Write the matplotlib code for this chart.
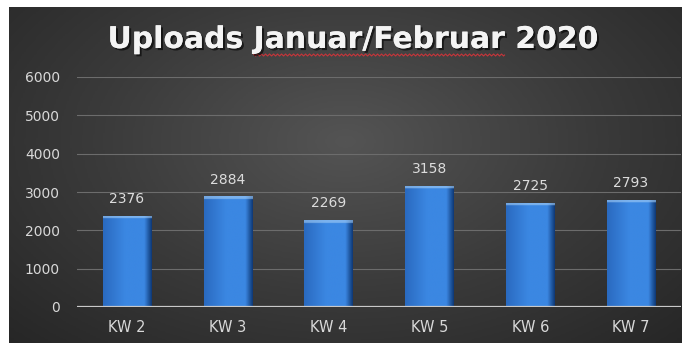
import numpy as np
import matplotlib
matplotlib.use("Agg")
import matplotlib.pyplot as plt
import matplotlib.patheffects as pe
from matplotlib.colors import LinearSegmentedColormap, to_rgb

# weekly upload counts
weeks = ["KW 2", "KW 3", "KW 4", "KW 5", "KW 6", "KW 7"]
uploads = [2376, 2884, 2269, 3158, 2725, 2793]
y_ticks = [0, 1000, 2000, 3000, 4000, 5000, 6000]
title = "Uploads Januar/Februar 2020"

W, H, DPI = 682, 343, 100
TITLE_SIZE = 21.5
fig = plt.figure(figsize=(W / DPI, H / DPI), dpi=DPI)
fig.patch.set_facecolor("white")

# dark radial backdrop
bg = fig.add_axes([9 / W, 0, 1 - 9 / W, 1 - 7 / H])
gy, gx = np.mgrid[0:1:200j, 0:1:400j]
r = np.sqrt(((gx - 0.5) / 0.75) ** 2 + ((gy - 0.6) / 0.9) ** 2)
bg_cmap = LinearSegmentedColormap.from_list("bg", ["#545454", "#3a3a3a", "#242424"])
bg.imshow(np.clip(r, 0, 1), cmap=bg_cmap, vmin=0, vmax=1, aspect="auto",
          extent=[0, 1, 0, 1], origin="lower")
bg.axis("off")

ax = fig.add_axes([76.6 / W, 36 / H, 604.8 / W, 230 / H])
ax.patch.set_alpha(0)
ax.set_xlim(-0.5, len(weeks) - 0.5)
ax.set_ylim(0, 6000)

for t in y_ticks[1:]:
    ax.axhline(t, color="#6c6c6c", lw=0.8, zorder=1)
ax.axhline(0, color="#c9c9c9", lw=1.6, zorder=4)

# bars with a horizontal blue shading and a light top edge
x = np.arange(len(weeks))
bars = ax.bar(x, uploads, width=0.48, color="none", edgecolor="none", zorder=3)
prof = np.linspace(0, 1, 60)
c_left, c_mid, c_right = np.array(to_rgb("#2a6ac0")), np.array(to_rgb("#3b87e2")), np.array(to_rgb("#0f3a78"))
row = np.where(prof[:, None] < 0.45,
               c_left + (c_mid - c_left) * (prof[:, None] / 0.45),
               np.where(prof[:, None] < 0.85, c_mid,
                        c_mid + (c_right - c_mid) * ((prof[:, None] - 0.85) / 0.15)))
hl = np.array(to_rgb("#a6d0f7"))
for b, v in zip(bars, uploads):
    ny = 300
    ys = np.linspace(0, v, ny)
    img = np.repeat(row[None, :, :], ny, axis=0)
    top = ys > v - 75
    img[top] = img[top] * 0.4 + hl * 0.6
    x0 = b.get_x()
    im = ax.imshow(img, extent=[x0, x0 + b.get_width(), 0, v], origin="lower",
                   aspect="auto", zorder=3, interpolation="bilinear")
    im.set_clip_path(b)
    ax.annotate(f"{v}", (b.get_x() + b.get_width() / 2, v), xytext=(0, 7),
                textcoords="offset points", ha="center", va="bottom",
                fontsize=10, color="#dcdcdc")

ax.set_xticks(x)
ax.set_xticklabels(weeks, fontsize=10.5, color="#d8d8d8")
ax.set_yticks(y_ticks)
ax.set_yticklabels([str(t) for t in y_ticks], fontsize=10, color="#d8d8d8")
ax.tick_params(axis="x", length=0, pad=9)
ax.tick_params(axis="y", length=0, pad=12)
for s in ax.spines.values():
    s.set_visible(False)

# title with drop shadow
ty = 1 - 48 / H
tx = 353 / W
ttl = fig.text(tx, ty, title, ha="center", va="baseline", fontsize=TITLE_SIZE,
               fontweight="bold", color="#f4f4f4",
               path_effects=[pe.withSimplePatchShadow(offset=(1.5, -1.5), shadow_rgbFace="black", alpha=0.6),
                             pe.Normal()])

# red wavy underline below "Januar/Februar"
rend = fig.canvas.get_renderer()
full_w = ttl.get_window_extent(rend).width
probe = fig.text(0, 0, "Uploads ", fontsize=TITLE_SIZE, fontweight="bold")
pre_w = probe.get_window_extent(rend).width
probe.set_text("Januar/Februar")
word_w = probe.get_window_extent(rend).width
probe.remove()
x_start = tx * W - full_w / 2 + pre_w
xs = np.arange(x_start, x_start + word_w, 1.0)
wave = 1.0 * np.abs(((xs - x_start) % 4) - 2) - 1
ys_w = (H - 55) + wave
fig.add_artist(plt.Line2D(xs / W, ys_w / H, transform=fig.transFigure,
                          color="#c8353a", lw=0.8))

fig.savefig("out.png", dpi=DPI, facecolor=fig.get_facecolor())
